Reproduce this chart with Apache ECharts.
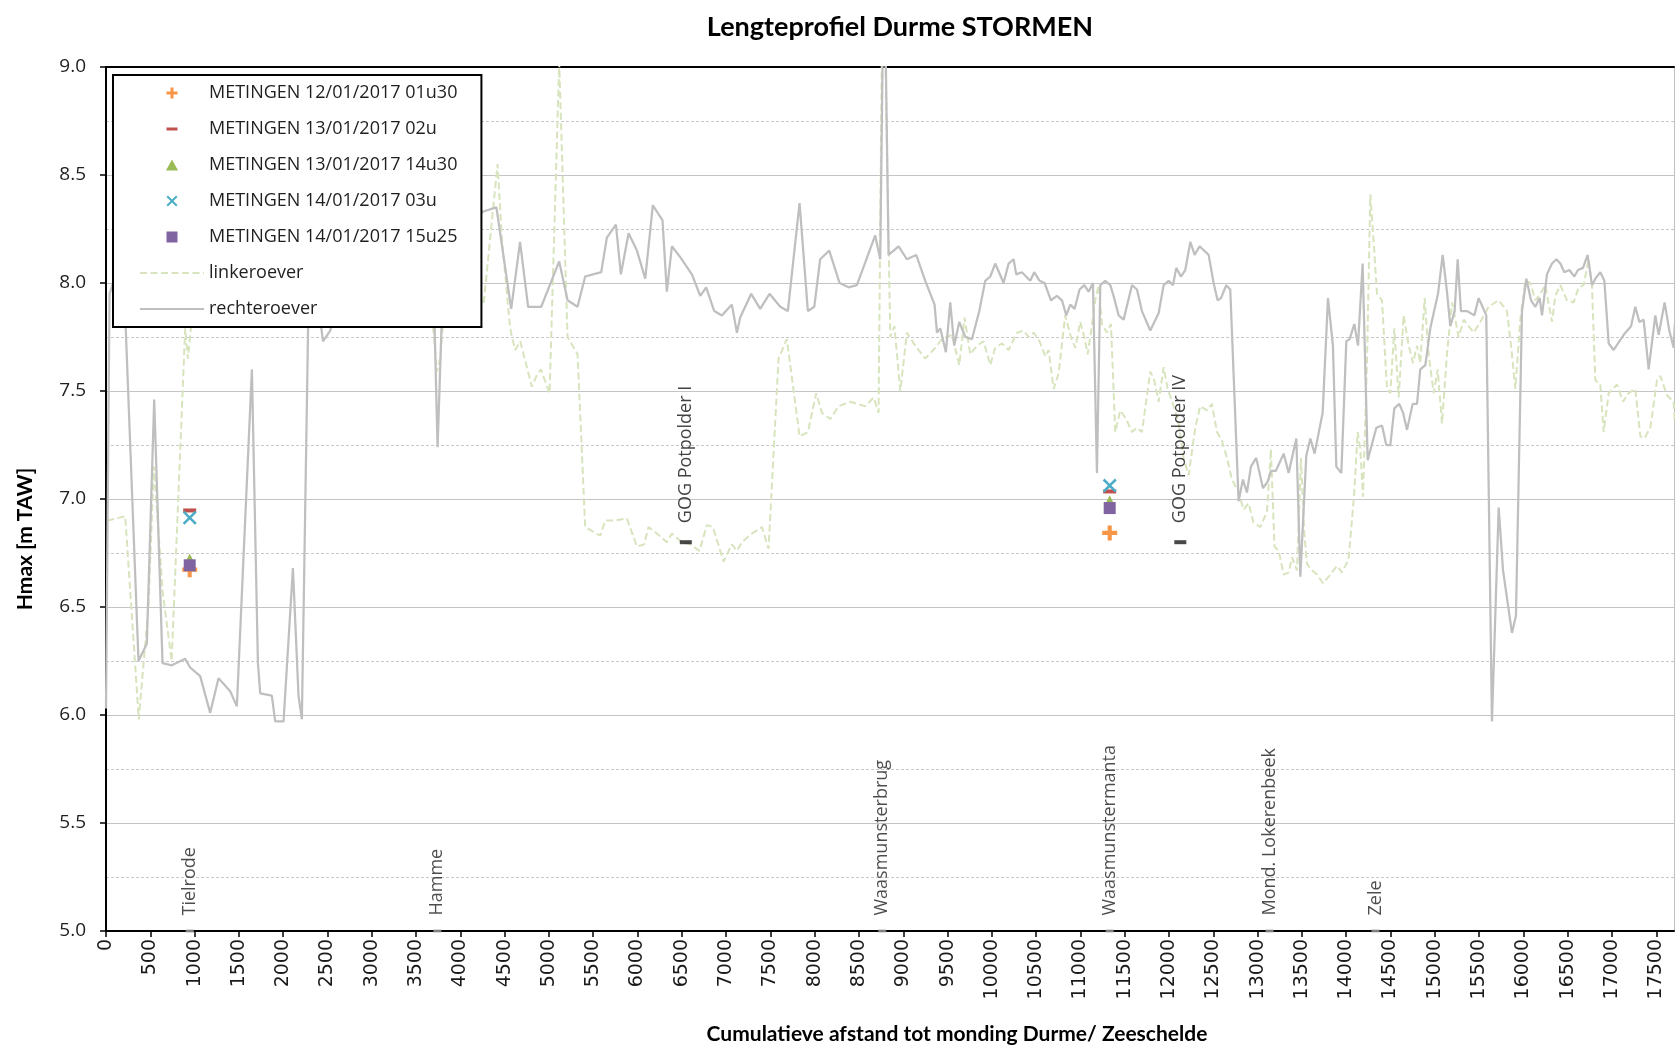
<!DOCTYPE html>
<html>
<head>
<meta charset="utf-8">
<title>Lengteprofiel Durme STORMEN</title>
<script src="https://cdn.jsdelivr.net/npm/echarts@6/dist/echarts.min.js"></script>
<style>
  html, body { margin: 0; padding: 0; background: #ffffff; }
  #chart { width: 1675px; height: 1050px; }
</style>
</head>
<body>
<div id="chart"></div>
<script>
// Hmax (m TAW) along the Durme, as [cumulative distance (m), level]
const linkeroever = [
  [14, 6.90], [217, 6.92], [370, 5.98], [479, 6.50], [540, 7.15], [640, 6.57], [741, 6.25], [894, 7.79],
  [925, 7.65], [960, 7.80], [1050, 8.05], [1300, 8.15], [1600, 8.10], [1900, 8.20], [2200, 8.15], [2500, 8.10],
  [2800, 8.20], [3100, 8.15], [3400, 8.10], [3650, 8.00], [3735, 7.59], [3773, 7.65], [3830, 7.95], [3950, 8.05],
  [4100, 8.15], [4200, 7.95], [4262, 7.90], [4420, 8.55], [4470, 8.20], [4560, 7.80], [4582, 7.75], [4619, 7.69],
  [4676, 7.73], [4807, 7.52], [4860, 7.57], [4909, 7.60], [5007, 7.49], [5116, 9.02], [5210, 7.75], [5323, 7.67],
  [5409, 6.87], [5579, 6.83], [5635, 6.90], [5748, 6.90], [5880, 6.91], [5993, 6.78], [6075, 6.79], [6124, 6.87],
  [6219, 6.84], [6331, 6.80], [6388, 6.84], [6501, 6.80], [6595, 6.79], [6700, 6.76], [6783, 6.88], [6851, 6.87],
  [6971, 6.71], [7065, 6.79], [7122, 6.76], [7178, 6.80], [7291, 6.84], [7404, 6.87], [7479, 6.77], [7592, 7.65],
  [7686, 7.74], [7829, 7.29], [7923, 7.31], [8017, 7.49], [8081, 7.40], [8175, 7.37], [8270, 7.43], [8401, 7.45],
  [8570, 7.43], [8665, 7.47], [8721, 7.40], [8758, 9.10], [8796, 9.10], [8853, 7.75], [8900, 7.80], [8966, 7.50],
  [9041, 7.77], [9135, 7.71], [9248, 7.65], [9361, 7.70], [9436, 7.74], [9549, 7.76], [9632, 7.62], [9692, 7.84],
  [9756, 7.67], [9831, 7.71], [9907, 7.73], [9982, 7.62], [10038, 7.70], [10113, 7.72], [10189, 7.69], [10283, 7.77],
  [10358, 7.78], [10414, 7.75], [10471, 7.77], [10539, 7.73], [10603, 7.66], [10640, 7.69], [10697, 7.51], [10753, 7.58],
  [10828, 7.85], [10892, 7.75], [10942, 7.70], [10998, 7.82], [11043, 7.75], [11081, 7.67], [11118, 7.77], [11167, 7.92],
  [11205, 7.99], [11243, 7.81], [11299, 7.77], [11344, 7.81], [11393, 7.31], [11449, 7.41], [11517, 7.37], [11581, 7.31],
  [11638, 7.33], [11694, 7.31], [11788, 7.59], [11833, 7.55], [11882, 7.45], [11939, 7.61], [11984, 7.51], [12051, 7.43],
  [12108, 7.35], [12164, 7.19], [12221, 7.11], [12296, 7.33], [12352, 7.43], [12428, 7.41], [12484, 7.44], [12541, 7.31],
  [12597, 7.27], [12654, 7.19], [12710, 7.09], [12785, 7.03], [12842, 6.95], [12898, 6.98], [12954, 6.89], [13030, 6.87],
  [13105, 6.94], [13150, 7.23], [13190, 6.78], [13237, 6.76], [13294, 6.65], [13350, 6.66], [13388, 6.73], [13444, 6.67],
  [13489, 7.19], [13527, 6.84], [13557, 6.70], [13613, 6.67], [13670, 6.65], [13738, 6.61], [13801, 6.64], [13896, 6.69],
  [13952, 6.66], [14027, 6.72], [14091, 7.03], [14129, 7.31], [14159, 7.23], [14189, 7.01], [14234, 7.63], [14272, 8.41],
  [14310, 8.19], [14347, 7.95], [14404, 7.92], [14460, 7.51], [14498, 7.49], [14543, 7.79], [14592, 7.47], [14648, 7.85],
  [14705, 7.71], [14754, 7.63], [14799, 7.71], [14836, 7.63], [14885, 7.93], [14930, 7.67], [14987, 7.49], [15032, 7.60],
  [15081, 7.35], [15137, 7.67], [15194, 7.91], [15269, 7.75], [15326, 7.83], [15439, 7.77], [15514, 7.82], [15608, 7.89],
  [15721, 7.92], [15815, 7.87], [15860, 7.71], [15909, 7.51], [15965, 7.83], [16022, 8.01], [16078, 8.00], [16135, 7.92],
  [16191, 7.95], [16247, 7.99], [16323, 7.82], [16360, 7.94], [16417, 7.99], [16492, 7.92], [16567, 7.91], [16624, 7.98],
  [16680, 7.99], [16737, 8.11], [16774, 7.99], [16812, 7.55], [16868, 7.53], [16906, 7.31], [16963, 7.49], [17057, 7.53],
  [17124, 7.45], [17188, 7.49], [17263, 7.51], [17320, 7.29], [17365, 7.28], [17433, 7.33], [17508, 7.55], [17546, 7.57],
  [17621, 7.48], [17696, 7.45], [17710, 7.35]
];

const rechteroever = [
  [0, 6.03], [40, 7.95], [120, 8.05], [205, 7.98], [367, 6.25], [461, 6.33], [544, 7.46], [638, 6.24],
  [744, 6.23], [894, 6.26], [950, 6.22], [1063, 6.18], [1176, 6.01], [1270, 6.17], [1402, 6.11], [1477, 6.04],
  [1647, 7.60], [1715, 6.24], [1741, 6.10], [1872, 6.09], [1910, 5.97], [2004, 5.97], [2110, 6.68], [2173, 6.09],
  [2211, 5.98], [2290, 8.02], [2380, 7.95], [2450, 7.73], [2531, 7.78], [2620, 7.93], [2800, 8.05], [3000, 8.12],
  [3200, 8.02], [3400, 8.15], [3600, 8.05], [3700, 7.95], [3743, 7.24], [3800, 7.95], [3950, 8.10], [4100, 8.25],
  [4251, 8.33], [4407, 8.35], [4574, 7.88], [4674, 8.19], [4765, 7.89], [4913, 7.89], [5116, 8.10], [5210, 7.92],
  [5323, 7.89], [5409, 8.03], [5590, 8.05], [5654, 8.21], [5756, 8.27], [5812, 8.04], [5899, 8.23], [5993, 8.15],
  [6087, 8.02], [6173, 8.36], [6282, 8.29], [6331, 7.96], [6388, 8.17], [6482, 8.12], [6614, 8.04], [6708, 7.94],
  [6775, 7.98], [6866, 7.87], [6952, 7.85], [7065, 7.90], [7122, 7.77], [7159, 7.84], [7283, 7.95], [7385, 7.88],
  [7490, 7.95], [7611, 7.89], [7697, 7.87], [7829, 8.37], [7923, 7.87], [7995, 7.89], [8062, 8.11], [8164, 8.15],
  [8281, 8.00], [8382, 7.98], [8476, 7.99], [8683, 8.22], [8740, 8.11], [8768, 9.10], [8800, 9.10], [8834, 8.13],
  [8947, 8.17], [9041, 8.11], [9146, 8.13], [9248, 8.01], [9353, 7.90], [9380, 7.77], [9417, 7.79], [9481, 7.68],
  [9530, 7.91], [9575, 7.71], [9632, 7.82], [9700, 7.75], [9775, 7.74], [9858, 7.87], [9925, 8.01], [9982, 8.03],
  [10038, 8.09], [10132, 8.00], [10189, 8.09], [10245, 8.11], [10275, 8.04], [10339, 8.05], [10433, 8.01], [10478, 8.05],
  [10539, 8.01], [10595, 8.00], [10667, 7.92], [10734, 7.94], [10791, 7.92], [10840, 7.85], [10885, 7.90], [10934, 7.88],
  [10990, 7.97], [11043, 7.99], [11092, 7.96], [11141, 8.00], [11186, 7.12], [11224, 7.99], [11280, 8.01], [11337, 7.99],
  [11374, 7.94], [11431, 7.85], [11487, 7.83], [11581, 7.99], [11638, 7.97], [11694, 7.87], [11788, 7.78], [11882, 7.86],
  [11939, 7.99], [11995, 8.01], [12044, 7.99], [12082, 8.07], [12134, 8.03], [12183, 8.06], [12240, 8.19], [12289, 8.13],
  [12345, 8.17], [12447, 8.13], [12503, 8.00], [12548, 7.92], [12586, 7.93], [12646, 7.99], [12691, 7.97], [12785, 6.99],
  [12834, 7.09], [12879, 7.03], [12924, 7.15], [12984, 7.19], [13060, 7.05], [13113, 7.08], [13150, 7.13], [13205, 7.13],
  [13294, 7.21], [13350, 7.12], [13437, 7.28], [13482, 6.64], [13549, 7.20], [13595, 7.28], [13643, 7.21], [13734, 7.40],
  [13794, 7.93], [13850, 7.71], [13888, 7.15], [13945, 7.12], [14001, 7.73], [14039, 7.74], [14091, 7.81], [14133, 7.71],
  [14185, 8.09], [14242, 7.18], [14340, 7.33], [14404, 7.34], [14452, 7.25], [14498, 7.25], [14543, 7.42], [14599, 7.44],
  [14641, 7.40], [14686, 7.32], [14750, 7.44], [14799, 7.44], [14836, 7.60], [14893, 7.62], [14949, 7.79], [15036, 7.95],
  [15089, 8.13], [15137, 7.96], [15175, 7.80], [15224, 7.87], [15258, 8.11], [15295, 7.87], [15363, 7.87], [15446, 7.85],
  [15495, 7.93], [15581, 7.85], [15645, 5.97], [15721, 6.96], [15770, 6.67], [15822, 6.52], [15871, 6.38], [15916, 6.46],
  [15984, 7.87], [16033, 8.02], [16086, 7.92], [16135, 7.89], [16183, 7.93], [16210, 7.85], [16266, 8.04], [16323, 8.09],
  [16372, 8.11], [16417, 8.09], [16462, 8.05], [16518, 8.06], [16575, 8.03], [16616, 8.06], [16673, 8.07], [16725, 8.13],
  [16774, 7.99], [16812, 8.02], [16868, 8.05], [16914, 8.01], [16963, 7.72], [17019, 7.69], [17132, 7.76], [17215, 7.80],
  [17263, 7.89], [17309, 7.82], [17357, 7.83], [17414, 7.60], [17489, 7.85], [17527, 7.76], [17594, 7.91], [17647, 7.78],
  [17696, 7.70], [17710, 7.81]
];

// Measured storm levels at the two gauges (Tielrode, Waasmunstermanta)
const metingAfstand = [945, 11330];
const meting_12_01_0130 = [6.673, 6.843];
const meting_13_01_02 = [6.947, 7.035];
const meting_13_01_1430 = [6.722, 6.992];
const meting_14_01_03 = [6.913, 7.062];
const meting_14_01_1525 = [6.693, 6.958];

// Landmarks along the river (drawn on the 5.0 baseline)
const locatieNamen = ['Tielrode', 'Hamme', 'Waasmunsterbrug', 'Waasmunstermanta', 'Mond. Lokerenbeek', 'Zele'];
const locatieAfstand = [945, 3740, 8762, 11330, 13135, 14330];

// Flood control areas
const gogNamen = ['GOG Potpolder I', 'GOG Potpolder IV'];
const gogAfstand = [6545, 12127];
const gogHoogte = [6.8, 6.8];

// Axis ticks
const xTicks = [0, 500, 1000, 1500, 2000, 2500, 3000, 3500, 4000, 4500, 5000, 5500, 6000, 6500, 7000, 7500, 8000, 8500,
  9000, 9500, 10000, 10500, 11000, 11500, 12000, 12500, 13000, 13500, 14000, 14500, 15000, 15500, 16000, 16500, 17000, 17500];
const yTicks = [5.0, 5.5, 6.0, 6.5, 7.0, 7.5, 8.0, 8.5, 9.0];
const xMax = 17700;

// Marker shapes
const plusPath = 'path://M4,0H7V4H11V7H7V11H4V7H0V4H4Z';
const crossPath = 'path://M1.4,0L5.5,4.1L9.6,0L11,1.4L6.9,5.5L11,9.6L9.6,11L5.5,6.9L1.4,11L0,9.6L4.1,5.5L0,1.4Z';
const trianglePath = 'path://M5.5,0L11,10L0,10Z';
const squarePath = 'path://M0,0H11V11H0Z';
// dash icon padded to a square box so the legend keeps it flat
const dashPath = 'path://M5.5,0L5.52,0L5.5,0.02Z M5.5,11L5.52,11L5.5,10.98Z M0,4H11V7H0Z';

const metingSeries = [
  { name: 'METINGEN 12/01/2017 01u30', values: meting_12_01_0130, color: '#f79646', symbol: plusPath, size: 15, icon: plusPath },
  { name: 'METINGEN 13/01/2017 02u', values: meting_13_01_02, color: '#c0504d', symbol: 'rect', size: [13, 4], icon: dashPath },
  { name: 'METINGEN 13/01/2017 14u30', values: meting_13_01_1430, color: '#9bbb59', symbol: 'triangle', size: 11, icon: trianglePath },
  { name: 'METINGEN 14/01/2017 03u', values: meting_14_01_03, color: '#4bacc6', symbol: crossPath, size: 14, icon: crossPath },
  { name: 'METINGEN 14/01/2017 15u25', values: meting_14_01_1525, color: '#8064a2', symbol: 'rect', size: 12, icon: squarePath }
];

const chart = echarts.init(document.getElementById('chart'), null, { renderer: 'canvas' });

const series = [
  {
    name: 'linkeroever', type: 'line', data: linkeroever, symbol: 'none', showSymbol: false,
    lineStyle: { color: '#d7e4bd', width: 2, type: [7, 3.5] }, itemStyle: { color: '#d7e4bd' },
    clip: true, z: 2
  },
  {
    name: 'rechteroever', type: 'line', data: rechteroever, symbol: 'none', showSymbol: false,
    lineStyle: { color: '#bfbfbf', width: 2.25 }, itemStyle: { color: '#bfbfbf' },
    clip: true, z: 2
  }
];

metingSeries.forEach(function (m) {
  series.push({
    name: m.name, type: 'scatter', symbol: m.symbol, symbolSize: m.size,
    itemStyle: { color: m.color, opacity: 1 },
    data: metingAfstand.map(function (x, i) { return [x, m.values[i]]; }),
    z: 4
  });
});

series.push({
  name: 'locaties', type: 'scatter', symbol: 'rect', symbolSize: [8, 3], silent: true,
  itemStyle: { color: '#a0a0a0' },
  data: locatieNamen.map(function (n, i) { return { name: n, value: [locatieAfstand[i], yTicks[0]] }; }),
  label: {
    show: true, position: 'top', distance: 14, rotate: 90, align: 'left', verticalAlign: 'middle',
    formatter: '{b}', fontFamily: 'Open Sans', fontSize: 18, color: '#1f1f1f'
  },
  z: 5
});

series.push({
  name: 'gog', type: 'scatter', symbol: 'rect', symbolSize: [12, 4], silent: true,
  itemStyle: { color: '#1a1a1a' },
  data: gogNamen.map(function (n, i) { return { name: n, value: [gogAfstand[i], gogHoogte[i]] }; }),
  label: {
    show: true, position: 'top', distance: 17, rotate: 90, align: 'left', verticalAlign: 'middle',
    formatter: '{b}', fontFamily: 'Open Sans', fontSize: 18, color: '#111'
  },
  z: 5
});

const legendData = metingSeries.map(function (m) { return { name: m.name, icon: m.icon }; })
  .concat([
    { name: 'linkeroever', itemStyle: { opacity: 0 } },
    { name: 'rechteroever', itemStyle: { opacity: 0 } }
  ]);

chart.setOption({
  animation: false,
  backgroundColor: '#ffffff',
  title: {
    text: 'Lengteprofiel Durme STORMEN',
    left: 895, top: 9, textAlign: 'center',
    textStyle: { fontFamily: 'Lato', fontWeight: 'bold', fontSize: 27, color: '#000' }
  },
  grid: { left: 106, right: 1, top: 67, bottom: 118, containLabel: false },
  legend: {
    orient: 'vertical', left: 113, top: 75,
    padding: [7, 24, 7, 26],
    itemWidth: 64, itemHeight: 11, itemGap: 14,
    backgroundColor: '#ffffff', borderColor: '#000000', borderWidth: 2, borderRadius: 0,
    symbolKeepAspect: true, selectedMode: false,
    textStyle: { fontFamily: 'Open Sans', fontSize: 18, color: '#1f1f1f', lineHeight: 22 },
    data: legendData
  },
  xAxis: [
    {
      type: 'value', position: 'bottom', min: xTicks[0], max: xMax, interval: 500,
      name: 'Cumulatieve afstand tot monding Durme/ Zeeschelde',
      nameLocation: 'middle', nameGap: 93,
      nameTextStyle: { fontFamily: 'Lato', fontWeight: 'bold', fontSize: 21, color: '#000', padding: [0, 0, 0, 134] },
      axisLine: { show: true, onZero: false, lineStyle: { color: '#000', width: 2 } },
      axisTick: { show: true, length: 6, customValues: xTicks, lineStyle: { color: '#000', width: 1.5 } },
      axisLabel: {
        rotate: 90, margin: 8, customValues: xTicks,
        formatter: function (v) { return v % 500 === 0 ? String(v) : ''; },
        fontFamily: 'DejaVu Sans', fontSize: 19, color: '#1a1a1a'
      },
      splitLine: { show: false }
    },
    {
      type: 'value', position: 'top', min: xTicks[0], max: xMax,
      axisLine: { show: true, onZero: false, lineStyle: { color: '#000', width: 2 } },
      axisTick: { show: false }, axisLabel: { show: false }, splitLine: { show: false }
    }
  ],
  yAxis: [
    {
      type: 'value', position: 'left', min: yTicks[0], max: yTicks[yTicks.length - 1], interval: 0.5,
      name: 'Hmax [m TAW]', nameLocation: 'middle', nameGap: 70,
      nameTextStyle: { fontFamily: 'Lato', fontWeight: 'bold', fontSize: 21, color: '#000', padding: [0, 80, 0, 0] },
      axisLine: { show: true, onZero: false, lineStyle: { color: '#000', width: 2 } },
      axisTick: { show: true, length: 6, lineStyle: { color: '#000', width: 1.5 } },
      axisLabel: {
        margin: 20, formatter: function (v) { return v.toFixed(1); },
        fontFamily: 'Open Sans', fontSize: 19, color: '#1f1f1f'
      },
      splitLine: { show: true, lineStyle: { color: '#c4c4c4', width: 1 } },
      minorTick: { show: false, splitNumber: 2 },
      minorSplitLine: { show: true, lineStyle: { color: '#c8c8c8', width: 1, type: [3, 2] } }
    },
    {
      type: 'value', position: 'right', min: yTicks[0], max: yTicks[yTicks.length - 1],
      axisLine: { show: true, onZero: false, lineStyle: { color: '#bfbfbf', width: 1 } },
      axisTick: { show: false }, axisLabel: { show: false }, splitLine: { show: false }
    }
  ],
  series: series
});
</script>
</body>
</html>
